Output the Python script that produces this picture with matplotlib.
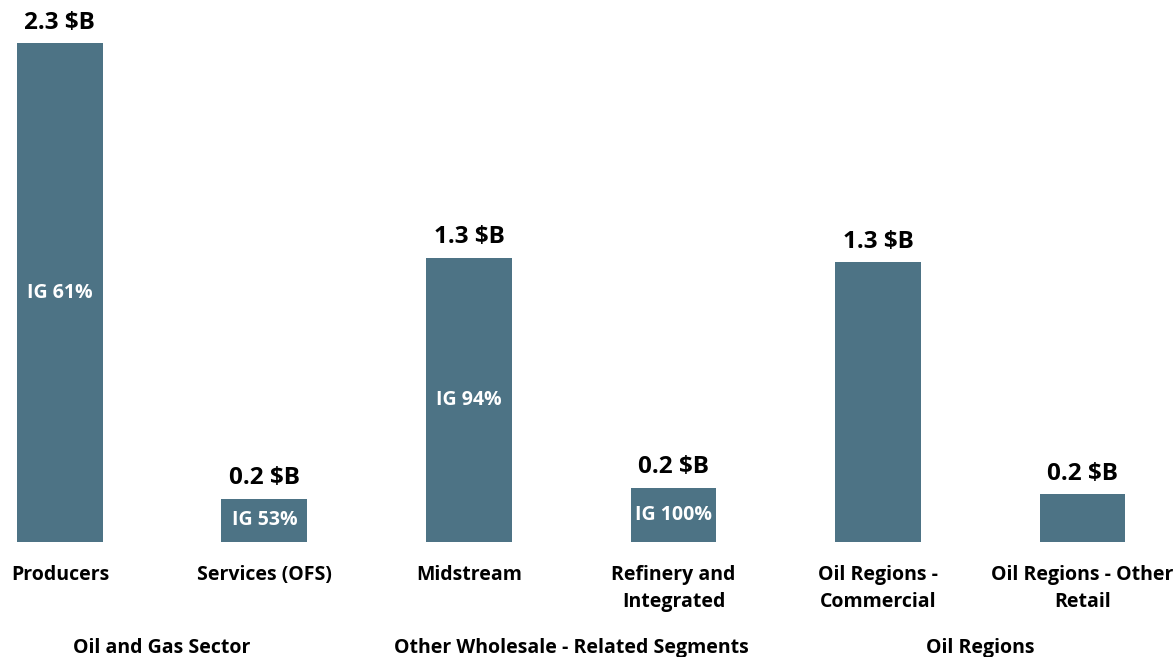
import matplotlib
matplotlib.use('Agg')
import matplotlib.pyplot as plt

# values in $B
categories = ['Producers', 'Services (OFS)', 'Midstream', 'Refinery and\nIntegrated',
              'Oil Regions -\nCommercial', 'Oil Regions - Other\nRetail']
values = [2.3, 0.20, 1.31, 0.25, 1.29, 0.22]
value_labels = ['2.3 $B', '0.2 $B', '1.3 $B', '0.2 $B', '1.3 $B', '0.2 $B']
ig_labels = ['IG 61%', 'IG 53%', 'IG 94%', 'IG 100%', '', '']
groups = ['Oil and Gas Sector', 'Other Wholesale - Related Segments', 'Oil Regions']

BAR = '#4d7385'
plt.rcParams['font.family'] = ['Open Sans', 'DejaVu Sans']

fig = plt.figure(figsize=(11.76, 6.57), dpi=100)
ax = fig.add_axes([0, 0.175, 1, 0.825])

x = list(range(len(values)))
w = 0.42
ax.bar(x, values, width=w, color=BAR, zorder=2)
ax.hlines([-0.006] * len(x), [i - w / 2 for i in x], [i + w / 2 for i in x],
          color='#c9d3da', linewidth=1.2, zorder=1)

for i, v in enumerate(values):
    ax.text(i, v + 0.04, value_labels[i], ha='center', va='bottom',
            fontsize=17.5, fontweight='bold', color='black')
    if ig_labels[i]:
        ax.text(i, v / 2, ig_labels[i], ha='center', va='center',
                fontsize=14, fontweight='bold', color='white')
    ax.text(i, -0.105, categories[i], ha='center', va='top', fontsize=14,
            fontweight='bold', linespacing=1.45)

for g, name in enumerate(groups):
    ax.text(2 * g + 0.5, -0.442, name, ha='center', va='top', fontsize=14,
            fontweight='bold')

ax.set_xlim(-0.293, 5.457)
ax.set_ylim(0, 2.5)
ax.axis('off')

fig.savefig('out.png', dpi=100)
